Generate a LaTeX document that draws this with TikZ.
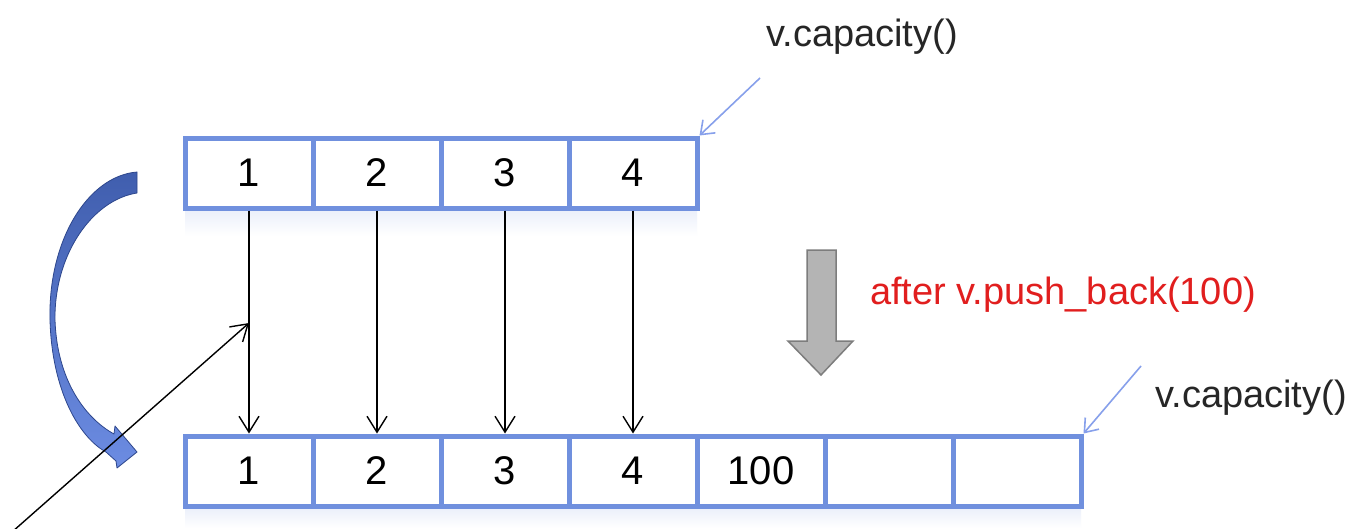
\documentclass[tikz,border=0pt]{standalone}
\usepackage{fontspec}
\setmainfont{Liberation Sans}
\usetikzlibrary{arrows.meta}
\definecolor{boxblue}{RGB}{112,144,222}
\definecolor{thinblue}{RGB}{135,160,235}
\definecolor{capred}{RGB}{225,30,30}
\definecolor{cdark}{RGB}{64,94,174}
\definecolor{clight}{RGB}{108,140,226}
\definecolor{cedge}{RGB}{45,70,140}
\definecolor{grayfill}{RGB}{180,180,180}
\definecolor{grayline}{RGB}{125,125,125}
\begin{document}
\begin{tikzpicture}[x=1pt,y=-1pt,
  cell/.style={draw=boxblue,line width=5pt,minimum width=128pt,minimum height=70pt,
    inner sep=0pt,fill=white,font=\fontsize{40}{40}\selectfont},
  lbl/.style={font=\fontsize{38}{38}\selectfont,inner sep=0pt},
  blk/.style={draw=black,line width=1.4pt,-{Straight Barb[length=16pt,width=20pt,line width=1.4pt]}},
  thinarrow/.style={draw=thinblue,line width=1.6pt,-{Straight Barb[length=12pt,width=18pt,line width=1.6pt]}},
  refl/.style={top color=boxblue!14,bottom color=white,draw=none}]
\useasboundingbox (0,0) rectangle (1353,528);
\fill[white] (0,0) rectangle (1353,528);

% reflections
\fill[refl] (185,210) rectangle (697,236);
\fill[refl] (185,508) rectangle (1081,528);

% top array
\node[cell] (t1) at (249,173) {1};
\node[cell] (t2) at (377,173) {2};
\node[cell] (t3) at (505,173) {3};
\node[cell] (t4) at (633,173) {4};

% bottom array
\node[cell] (b1) at (249,471) {1};
\node[cell] (b2) at (377,471) {2};
\node[cell] (b3) at (505,471) {3};
\node[cell] (b4) at (633,471) {4};
\node[cell] (b5) at (761,471) {100};
\node[cell] (b6) at (889,471) {};
\node[cell] (b7) at (1017,471) {};

% copy arrows
\draw[blk] (t1.south) -- (b1.north);
\draw[blk] (t2.south) -- (b2.north);
\draw[blk] (t3.south) -- (b3.north);
\draw[blk] (t4.south) -- (b4.north);

% curved blue arrow
\shade[top color=cdark,bottom color=clight,draw=cedge,line width=0.8pt,line join=round]
  (137,172) .. controls (88,176) and (48,240) .. (50,320)
  .. controls (52,392) and (80,438) .. (106,452)
  -- (116,461) -- (117,468) -- (137,452) -- (115,426) -- (114,434)
  .. controls (85,418) and (57,380) .. (55,320)
  .. controls (54,255) and (92,200) .. (137,193) -- cycle;

% diagonal arrow
\coordinate (d0) at (12,532);
\coordinate (d1) at (249,323);
\draw[blk] (d0) -- (d1);

% capacity labels
\node[lbl,text=black!85] (c1) at (862,37) {v.capacity()};
\coordinate (k1) at (760,78);
\draw[thinarrow] (k1) -- (t4.north east);

\node[lbl,text=black!85] (c2) at (1251,398) {v.capacity()};
\coordinate (k2) at (1141,366);
\draw[thinarrow] (k2) -- (b7.north east);

% gray down arrow
\draw[fill=grayfill,draw=grayline,line width=1.5pt,line join=miter]
  (807,250) -- (836,250) -- (836,341) -- (853,341) -- (821,375) -- (788,341) -- (807,341) -- cycle;

% red label
\node[lbl,text=capred] (pb) at (1063,295) {after v.push\_back(100)};
\end{tikzpicture}
\end{document}
